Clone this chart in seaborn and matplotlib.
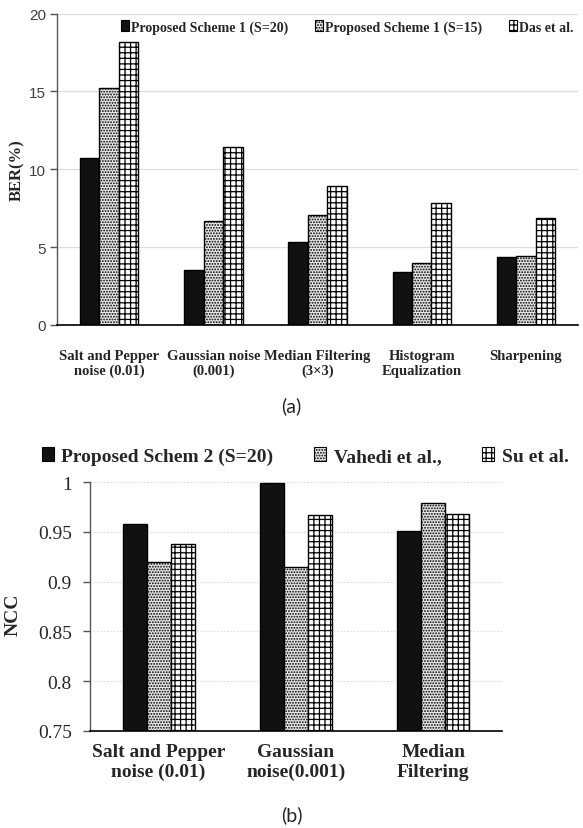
import matplotlib
matplotlib.use("Agg")
import matplotlib.pyplot as plt
import seaborn as sns
import pandas as pd
from matplotlib.patches import Patch

# ---------------- data ----------------
cats_a = ["Salt and Pepper\nnoise (0.01)", "Gaussian noise\n(0.001)",
          "Median Filtering\n(3×3)", "Histogram\nEqualization", "Sharpening"]
series_a = ["Proposed Scheme 1 (S=20)", "Proposed Scheme 1 (S=15)", "Das et al."]
ber_s20 = [10.7, 3.5, 5.35, 3.4, 4.35]
ber_s15 = [15.2, 6.7, 7.05, 4.0, 4.45]
ber_das = [18.2, 11.4, 8.9, 7.8, 6.85]
yticks_a = [0, 5, 10, 15, 20]

cats_b = ["Salt and Pepper\nnoise (0.01)", "Gaussian\nnoise(0.001)", "Median\nFiltering"]
series_b = ["Proposed Schem 2 (S=20)", "Vahedi et al.,", "Su et al."]
ncc_ps2 = [0.958, 0.999, 0.951]
ncc_vahedi = [0.920, 0.915, 0.979]
ncc_su = [0.938, 0.967, 0.968]
yticks_b = [0.75, 0.8, 0.85, 0.9, 0.95, 1.0]
ytick_labels_b = ["0.75", "0.8", "0.85", "0.9", "0.95", "1"]

# ---------------- style ----------------
sns.set_style("white")
plt.rcParams["font.family"] = ["Liberation Serif", "DejaVu Serif"]
plt.rcParams["hatch.linewidth"] = 0.9

styles = [dict(facecolor="#111111", hatch=None),
          dict(facecolor="#e8e8e8", hatch="......"),
          dict(facecolor="white", hatch="+++")]

def style_bars(ax):
    for cont, st in zip(ax.containers, styles):
        for p in cont.patches:
            p.set_facecolor(st["facecolor"])
            p.set_edgecolor("black")
            p.set_linewidth(1.0)
            if st["hatch"]:
                p.set_hatch(st["hatch"])

def legend_handles(labels):
    hs = []
    for lab, st in zip(labels, styles):
        hs.append(Patch(facecolor=st["facecolor"], edgecolor="black",
                        hatch=st["hatch"], linewidth=0.8, label=lab))
    return hs

fig = plt.figure(figsize=(5.83, 8.29), dpi=100)

# ---------------- chart (a) ----------------
df_a = pd.DataFrame({
    "cat": cats_a * 3,
    "series": [series_a[0]] * 5 + [series_a[1]] * 5 + [series_a[2]] * 5,
    "val": ber_s20 + ber_s15 + ber_das,
})
ax1 = fig.add_axes([0.0978, 0.6068, 0.8937, 0.3757])
sns.barplot(data=df_a, x="cat", y="val", hue="series", hue_order=series_a,
            order=cats_a, width=0.56, gap=0, ax=ax1, legend=False)
style_bars(ax1)
ax1.set_ylim(0, 20)
ax1.set_xlim(-0.5, 4.5)
ax1.set_yticks(yticks_a)
ax1.set_yticklabels([str(t) for t in yticks_a],
                    fontfamily=["Liberation Sans Narrow", "Liberation Sans", "DejaVu Sans"],
                    fontsize=11, color="#404040")
ax1.yaxis.grid(True, color="#dddddd", linewidth=0.9)
ax1.set_axisbelow(True)
for s in ["top", "right"]:
    ax1.spines[s].set_visible(False)
ax1.spines["left"].set_color("#555555")
ax1.spines["left"].set_linewidth(1.0)
ax1.spines["bottom"].set_color("black")
ax1.spines["bottom"].set_linewidth(1.2)
ax1.tick_params(axis="y", length=5, width=1, color="#555555", left=True, pad=3)
ax1.tick_params(axis="x", length=0, pad=17)
for lab in ax1.get_xticklabels():
    lab.set_fontweight("bold")
    lab.set_fontsize(10.5)
ax1.set_xlabel("")
ax1.set_ylabel("BER(%)", fontweight="bold", fontsize=12)
ax1.yaxis.set_label_coords(-0.062, 0.5)
ax1.legend(handles=legend_handles(series_a), loc="center left",
           bbox_to_anchor=(121 / 583, 1 - 28 / 829), bbox_transform=fig.transFigure,
           ncol=3, frameon=False, handlelength=0.6, handleheight=0.85,
           handletextpad=0.15, columnspacing=1.9, borderpad=0, borderaxespad=0,
           prop=dict(weight="bold", size=10))

fig.text(0.5, 1 - 406 / 829, "(a)", ha="center", va="center", fontsize=14,
         fontfamily=["Lato", "DejaVu Sans"])

# ---------------- chart (b) ----------------
df_b = pd.DataFrame({
    "cat": cats_b * 3,
    "series": [series_b[0]] * 3 + [series_b[1]] * 3 + [series_b[2]] * 3,
    "val": ncc_ps2 + ncc_vahedi + ncc_su,
})
ax2 = fig.add_axes([0.1544, 0.1174, 0.7067, 0.2996])
sns.barplot(data=df_b, x="cat", y="val", hue="series", hue_order=series_b,
            order=cats_b, width=0.525, gap=0, ax=ax2, legend=False)
style_bars(ax2)
ax2.set_ylim(0.75, 1.0)
ax2.set_xlim(-0.5, 2.5)
ax2.set_yticks(yticks_b)
ax2.set_yticklabels(ytick_labels_b, fontsize=14)
ax2.yaxis.grid(True, color="#dddddd", linewidth=0.8, linestyle=(0, (1.5, 1.5)))
ax2.set_axisbelow(True)
for s in ["top", "right"]:
    ax2.spines[s].set_visible(False)
ax2.spines["left"].set_color("#555555")
ax2.spines["left"].set_linewidth(1.0)
ax2.spines["bottom"].set_color("black")
ax2.spines["bottom"].set_linewidth(1.2)
ax2.tick_params(axis="y", length=5, width=1, color="#555555", left=True, pad=8)
ax2.tick_params(axis="x", length=0, pad=9)
for lab in ax2.get_xticklabels():
    lab.set_fontweight("bold")
    lab.set_fontsize(14)
ax2.set_xlabel("")
ax2.set_ylabel("NCC", fontweight="bold", fontsize=14)
ax2.yaxis.set_label_coords(-0.165, 0.47)
ax2.legend(handles=legend_handles(series_b), loc="center left",
           bbox_to_anchor=(42 / 583, 1 - 457 / 829), bbox_transform=fig.transFigure,
           ncol=3, frameon=False, handlelength=0.6, handleheight=0.7,
           handletextpad=0.4, columnspacing=2.1, borderpad=0, borderaxespad=0,
           prop=dict(weight="bold", size=14))

fig.text(0.5, 1 - 815 / 829, "(b)", ha="center", va="center", fontsize=14,
         fontfamily=["Lato", "DejaVu Sans"])

fig.savefig("out.png", dpi=100, facecolor="white")
